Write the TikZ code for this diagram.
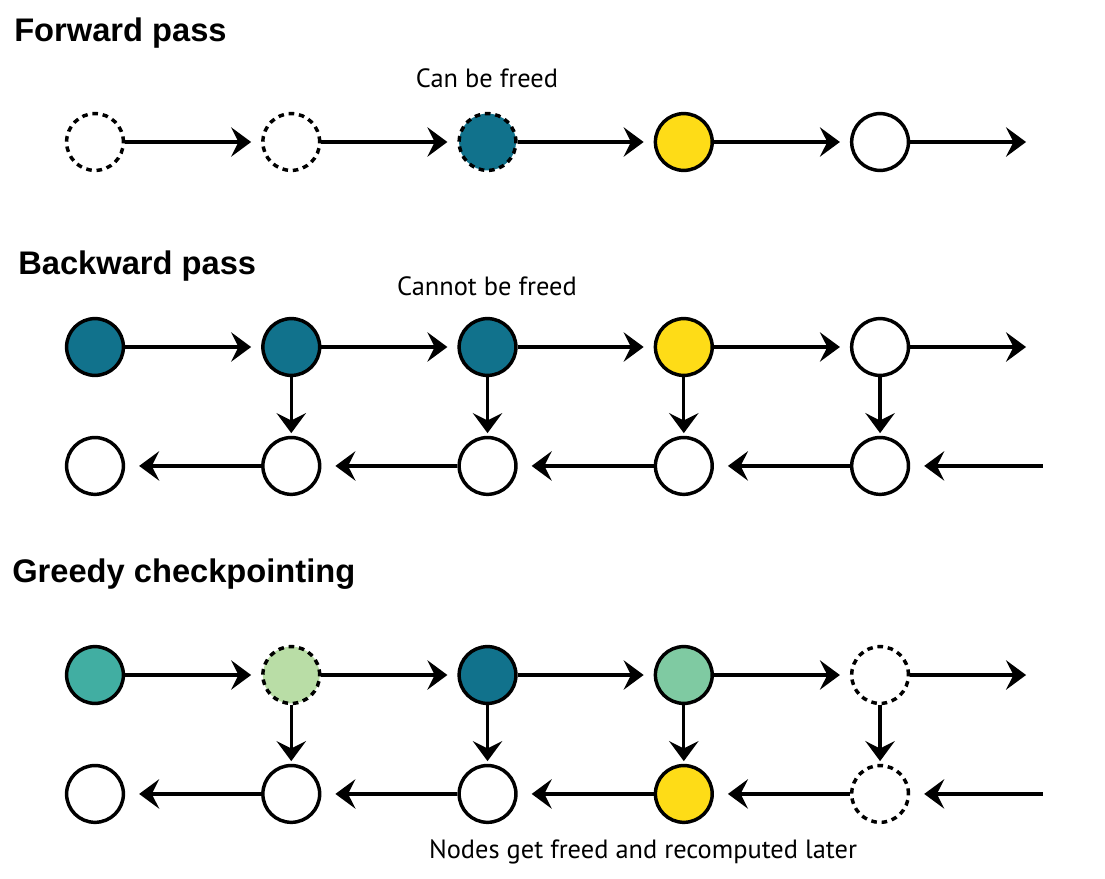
\documentclass[tikz,border=0pt]{standalone}
\usepackage{fontspec}
\setmainfont{Liberation Sans}
\newfontfamily\notefont{PT Sans}
\usetikzlibrary{positioning,arrows.meta}

\definecolor{tealdark}{HTML}{11728C}
\definecolor{tealmid}{HTML}{41AEA2}
\definecolor{greenlight}{HTML}{B9DDA6}
\definecolor{greenmid}{HTML}{7FCAA2}
\definecolor{sunyellow}{HTML}{FEDC17}

\begin{document}
\begin{tikzpicture} [
                x=0.75pt, y=-0.75pt,
                statenode/.style={
                    circle,
                    draw,
                    fill=white,
                    line width=2.6pt,
                    minimum size=42.6pt,
                    inner sep=0pt
                },
                freednode/.style={
                    statenode,
                    dash pattern=on 4.2pt off 3.6pt
                },
                flowedge/.style={
                    line width=2.4pt,
                    -{Stealth[length=15pt,width=22pt,inset=5.5pt]},
                    shorten >=7.5pt
                },
                downedge/.style={
                    flowedge,
                    shorten >=2pt
                },
                backedge/.style={
                    flowedge,
                    shorten >=10.5pt
                },
                titletext/.style={
                    anchor=west,
                    inner sep=0pt,
                    font=\bfseries\fontsize{24.5}{28}\selectfont
                },
                notetext/.style={
                    inner sep=0pt,
                    font=\notefont\fontsize{19.8}{23}\selectfont
                }
            ]

                \useasboundingbox (0,0) rectangle (1105,878);

                % forward pass
                \node[titletext]                        (fwdtitle)  at (14,33)              {Forward pass};
                \node[freednode]                        (f0)        at (95,142)             {};
                \node[freednode]                        (f1)        [right=102pt of f0]     {};
                \node[freednode, fill=tealdark]         (f2)        [right=102pt of f1]     {};
                \node[statenode, fill=sunyellow]        (f3)        [right=102pt of f2]     {};
                \node[statenode]                        (f4)        [right=102pt of f3]     {};
                \coordinate                             (fend)      at ([xshift=117pt]f4.center);
                \node[notetext]                         (canfree)   at (487,78)             {Can be freed};

                \draw[flowedge] (f0) -- (f1);
                \draw[flowedge] (f1) -- (f2);
                \draw[flowedge] (f2) -- (f3);
                \draw[flowedge] (f3) -- (f4);
                \draw[flowedge] (f4) -- (fend);

                % backward pass
                \node[titletext]                        (bwdtitle)  at (18,266)             {Backward pass};
                \node[statenode, fill=tealdark]         (b0)        at (95,347)             {};
                \node[statenode, fill=tealdark]         (b1)        [right=102pt of b0]     {};
                \node[statenode, fill=tealdark]         (b2)        [right=102pt of b1]     {};
                \node[statenode, fill=sunyellow]        (b3)        [right=102pt of b2]     {};
                \node[statenode]                        (b4)        [right=102pt of b3]     {};
                \coordinate                             (bend)      at ([xshift=117pt]b4.center);
                \node[notetext]                         (cannot)    at (487,286)            {Cannot be freed};

                \node[statenode]                        (g0)        [below=44pt of b0]      {};
                \node[statenode]                        (g1)        [below=44pt of b1]      {};
                \node[statenode]                        (g2)        [below=44pt of b2]      {};
                \node[statenode]                        (g3)        [below=44pt of b3]      {};
                \node[statenode]                        (g4)        [below=44pt of b4]      {};
                \coordinate                             (gstart)    at ([xshift=122pt]g4.center);

                \draw[flowedge] (b0) -- (b1);
                \draw[flowedge] (b1) -- (b2);
                \draw[flowedge] (b2) -- (b3);
                \draw[flowedge] (b3) -- (b4);
                \draw[flowedge] (b4) -- (bend);
                \draw[downedge] (b1) -- (g1);
                \draw[downedge] (b2) -- (g2);
                \draw[downedge] (b3) -- (g3);
                \draw[downedge] (b4) -- (g4);
                \draw[backedge] (gstart) -- (g4);
                \draw[backedge] (g4) -- (g3);
                \draw[backedge] (g3) -- (g2);
                \draw[backedge] (g2) -- (g1);
                \draw[backedge] (g1) -- (g0);

                % greedy checkpointing
                \node[titletext]                        (gcptitle)  at (12,574)             {Greedy checkpointing};
                \node[statenode, fill=tealmid]          (c0)        at (95,675)             {};
                \node[freednode, fill=greenlight]       (c1)        [right=102pt of c0]     {};
                \node[statenode, fill=tealdark]         (c2)        [right=102pt of c1]     {};
                \node[statenode, fill=greenmid]         (c3)        [right=102pt of c2]     {};
                \node[freednode]                        (c4)        [right=102pt of c3]     {};
                \coordinate                             (cend)      at ([xshift=117pt]c4.center);

                \node[statenode]                        (r0)        [below=44pt of c0]      {};
                \node[statenode]                        (r1)        [below=44pt of c1]      {};
                \node[statenode]                        (r2)        [below=44pt of c2]      {};
                \node[statenode, fill=sunyellow]        (r3)        [below=44pt of c3]      {};
                \node[freednode]                        (r4)        [below=44pt of c4]      {};
                \coordinate                             (rstart)    at ([xshift=122pt]r4.center);
                \node[notetext]                         (recomp)    at (643,852)            {Nodes get freed and recomputed later};

                \draw[flowedge] (c0) -- (c1);
                \draw[flowedge] (c1) -- (c2);
                \draw[flowedge] (c2) -- (c3);
                \draw[flowedge] (c3) -- (c4);
                \draw[flowedge] (c4) -- (cend);
                \draw[downedge] (c1) -- (r1);
                \draw[downedge] (c2) -- (r2);
                \draw[downedge] (c3) -- (r3);
                \draw[downedge] (c4) -- (r4);
                \draw[backedge] (rstart) -- (r4);
                \draw[backedge] (r4) -- (r3);
                \draw[backedge] (r3) -- (r2);
                \draw[backedge] (r2) -- (r1);
                \draw[backedge] (r1) -- (r0);

            \end{tikzpicture}
\end{document}
